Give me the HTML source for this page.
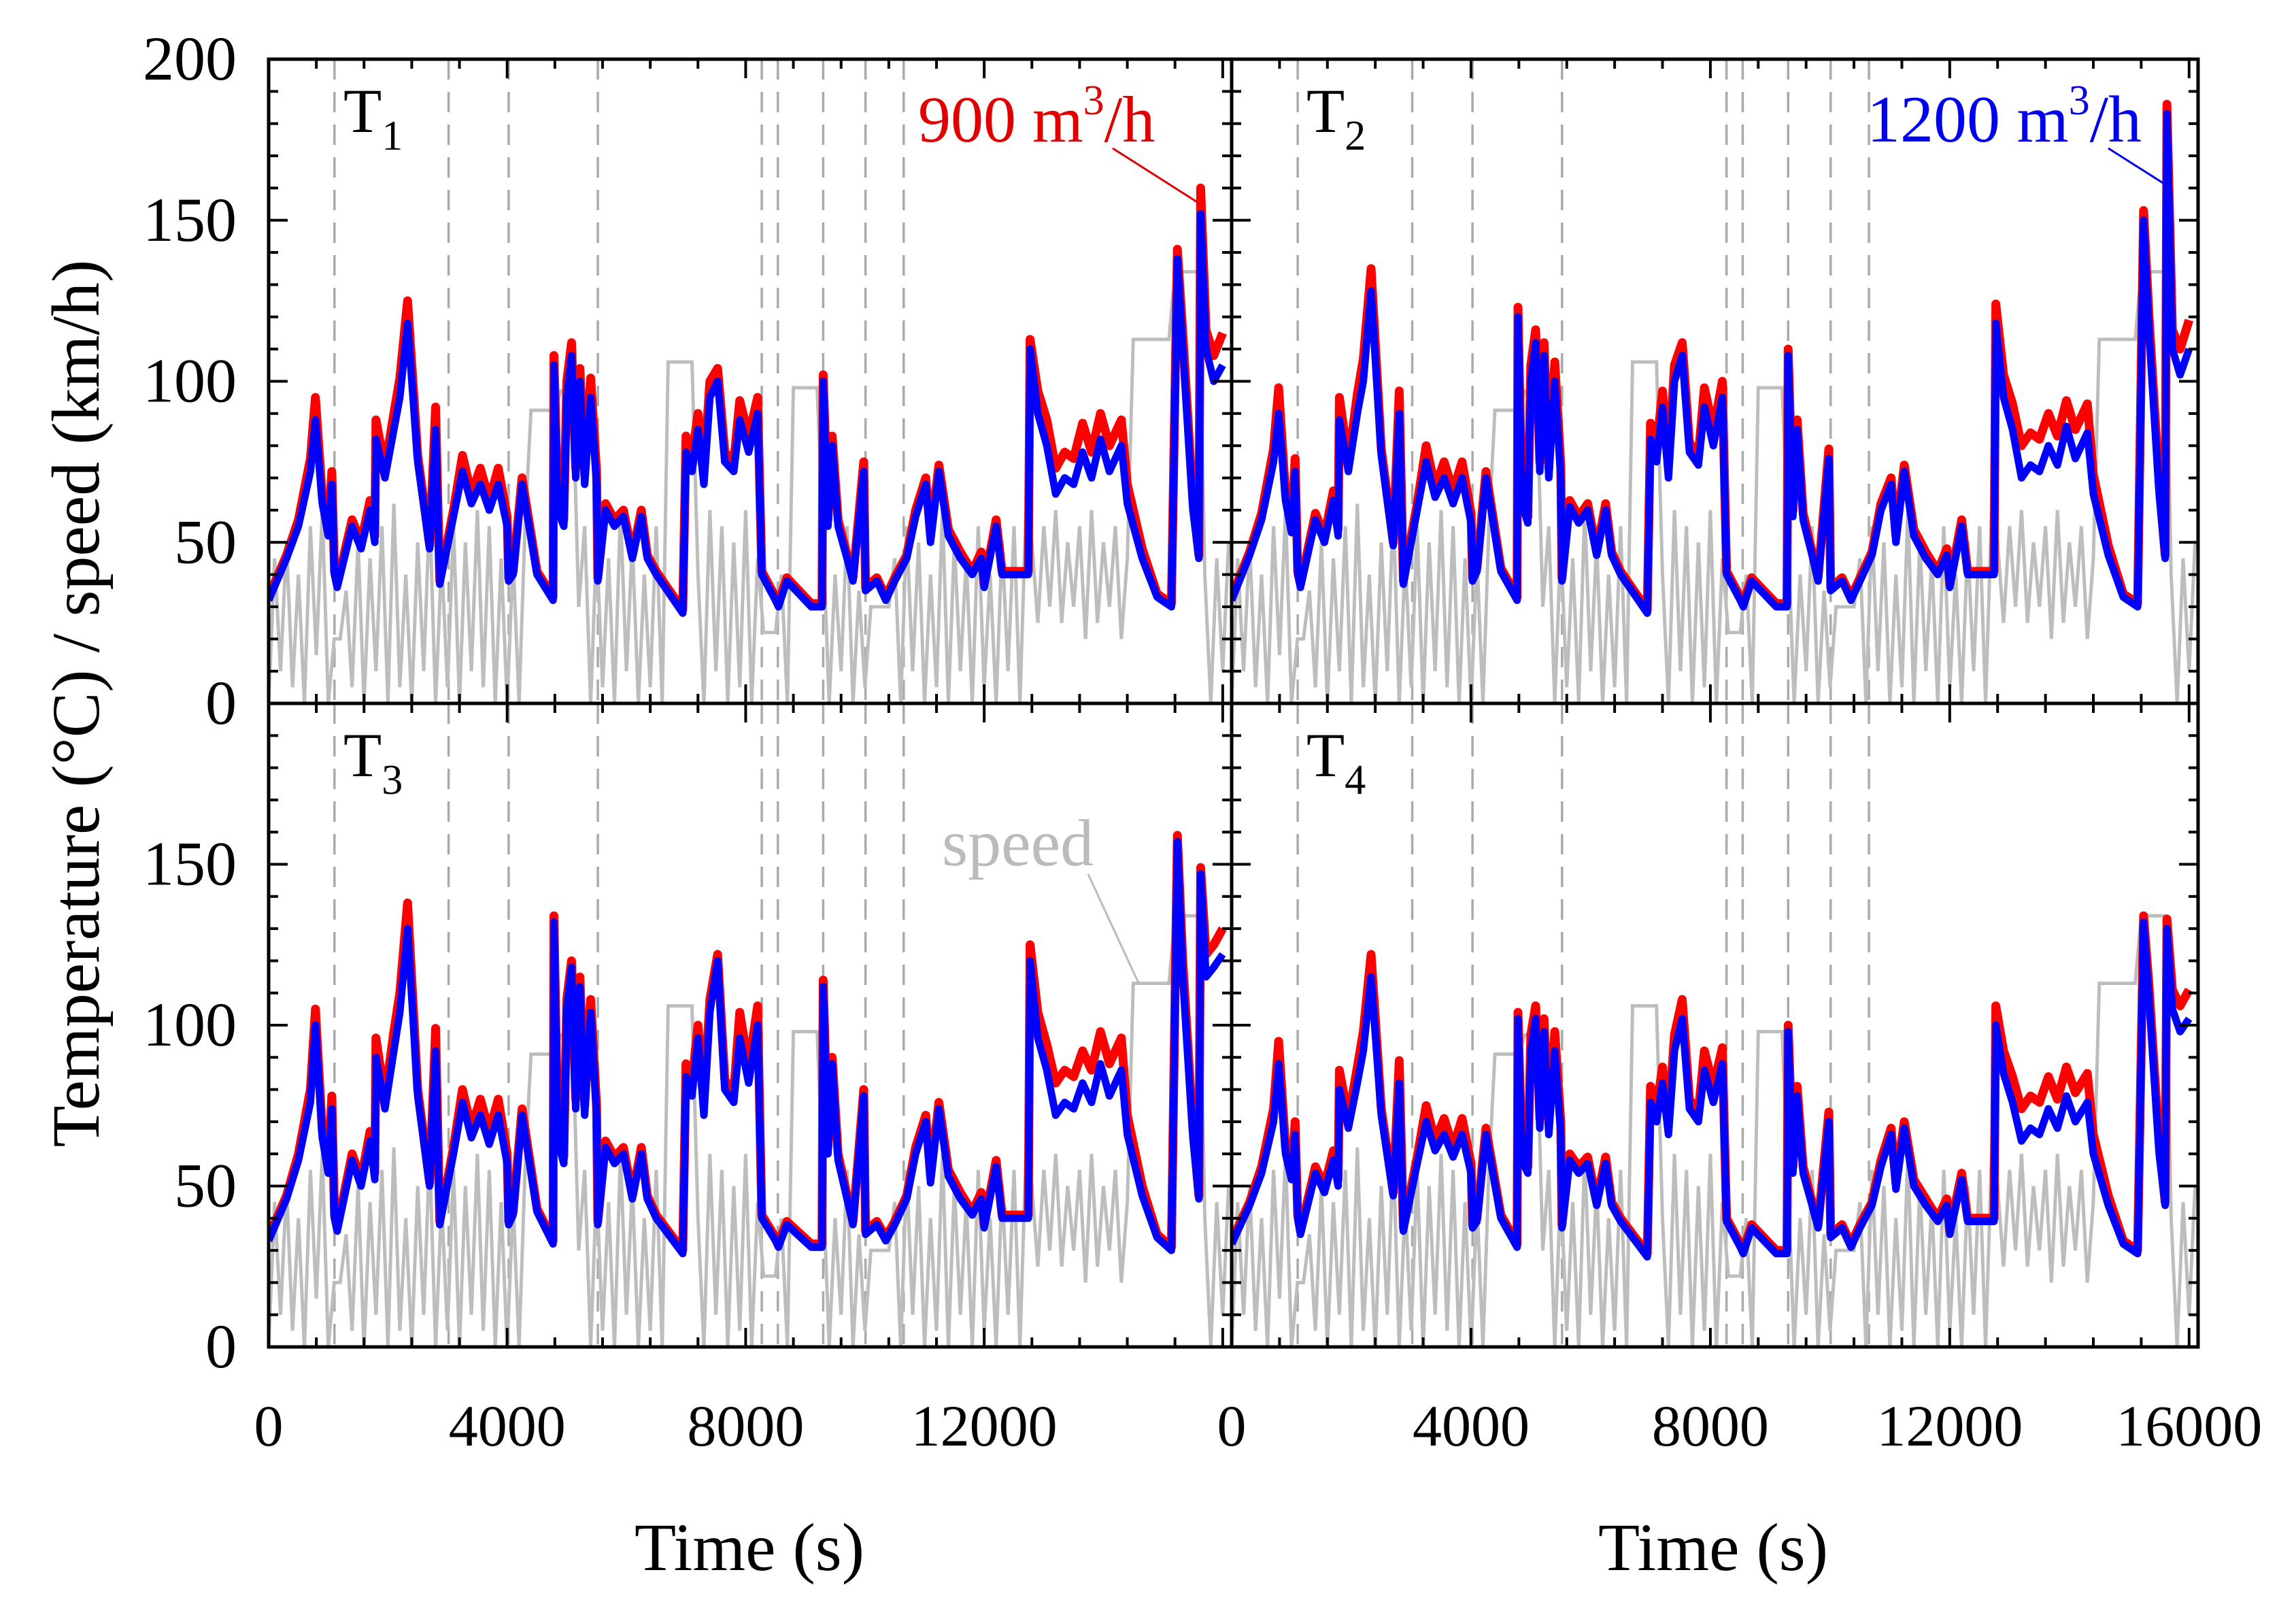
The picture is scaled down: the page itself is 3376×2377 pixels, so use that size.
<!DOCTYPE html>
<html><head><meta charset="utf-8"><style>
html,body{margin:0;padding:0;background:#fff;}
svg{display:block;font-family:"Liberation Serif",serif;}
</style></head><body>
<svg id="chart" width="3376" height="2377" viewBox="0 0 3376 2377" xmlns="http://www.w3.org/2000/svg">
<rect width="3376" height="2377" fill="#fff"/>
<g id="grid"></g><g id="speedg"></g><g id="redg"></g><g id="blueg"></g><g id="axes"></g>
<text transform="translate(145,1034) rotate(-90)" text-anchor="middle" font-size="100">Temperature (°C) / speed (km/h)</text>
<text x="1102" y="2308" text-anchor="middle" font-size="100">Time (s)</text>
<text x="2519" y="2308" text-anchor="middle" font-size="100">Time (s)</text>
<text x="1350" y="208" font-size="96" fill="#e00000">900 m<tspan font-size="62" dy="-40">3</tspan><tspan dy="40">/h</tspan></text>
<line x1="1636" y1="218" x2="1765" y2="300" stroke="#e00000" stroke-width="3"/>
<text x="2745" y="208" font-size="98" fill="#0000ee">1200 m<tspan font-size="62" dy="-40">3</tspan><tspan dy="40">/h</tspan></text>
<line x1="3100" y1="218" x2="3182" y2="270" stroke="#0000ee" stroke-width="3"/>
<text x="1385" y="1272" font-size="98" fill="#bbbbbb">speed</text>
<line x1="1600" y1="1285" x2="1675" y2="1447" stroke="#bbbbbb" stroke-width="3"/>
</svg>
<script>
const times=[0,300,500,700,785,900,1000,1060,1104,1150,1400,1550,1700,1780,1800,1950,2100,2200,2330,2500,2700,2800,2870,3100,3250,3400,3550,3700,3850,4000,4025,4100,4250,4500,4770,4785,4850,4950,5000,5080,5150,5220,5300,5400,5500,5520,5650,5800,5950,6100,6250,6350,6500,6945,7000,7100,7200,7300,7400,7530,7650,7800,7900,8050,8200,8270,8500,8550,8690,9100,9280,9300,9380,9450,9550,9700,9800,9980,10010,10200,10350,10500,10700,10850,11020,11100,11240,11400,11600,11800,11950,12000,12200,12300,12740,12770,12900,13050,13200,13350,13500,13650,13800,13950,14100,14300,14400,14650,14900,15140,15240,15330,15500,15600,15630,15720,15850,16000];
const blueT1=[32,45,55,72,88,62,52,68,40,36,55,48,60,50,82,70,85,95,118,75,48,85,37,58,72,62,68,60,68,55,38,40,68,40,32,105,60,55,95,108,70,100,68,95,68,38,60,55,58,45,58,45,40,28,78,72,85,68,95,100,75,72,88,78,90,40,32,30,38,30,30,100,55,80,55,45,38,72,35,38,32,38,45,58,68,50,72,52,45,40,45,36,55,40,40,110,90,80,65,70,68,78,70,82,72,80,62,45,33,30,138,110,60,45,152,110,100,105];
const redT1=[33,46,57,76,95,64,53,72,41,37,57,50,63,52,88,73,90,101,125,77,49,92,38,60,77,65,73,63,73,58,39,41,70,41,33,108,62,57,100,112,73,104,71,101,72,39,62,57,60,46,60,46,41,29,83,76,90,72,100,104,78,75,94,83,95,41,33,31,39,31,31,102,57,83,57,46,39,75,36,39,33,39,46,60,70,52,74,54,47,41,47,37,57,41,41,113,97,88,73,78,76,87,78,90,80,88,68,48,34,31,141,115,63,46,160,116,108,115];
const blueT2=[32,46,57,75,90,63,53,72,40,36,57,50,63,52,88,72,90,100,128,77,49,90,37,60,75,64,70,62,70,56,38,41,70,41,32,120,62,56,100,112,72,108,70,100,70,38,61,56,60,46,60,46,40,28,82,75,92,70,100,108,78,74,92,80,95,40,32,30,38,30,30,108,58,85,57,46,38,76,35,38,32,38,46,60,68,50,72,52,45,40,46,36,55,40,40,118,95,85,70,74,72,80,74,86,76,84,65,46,33,30,150,115,65,45,183,110,102,110];
const redT2=[33,47,59,79,98,65,54,76,41,37,59,52,66,54,95,75,96,107,135,79,50,97,38,62,80,67,75,66,75,59,39,42,72,42,33,123,64,58,105,116,75,112,73,106,74,39,63,58,62,47,62,47,41,29,87,79,97,74,105,112,81,77,98,85,100,41,33,31,39,31,31,110,60,88,59,47,39,79,36,39,33,39,47,62,70,52,74,54,47,41,48,37,57,41,41,124,102,93,80,84,82,90,83,94,85,93,71,49,34,31,153,120,68,46,186,116,110,119];
const blueT3=[33,46,58,76,100,65,54,74,40,36,58,50,64,52,90,74,92,104,130,78,50,92,38,60,76,65,72,63,72,57,38,41,72,42,32,132,64,57,105,118,74,112,72,104,72,38,62,57,60,46,60,46,40,29,84,78,96,72,104,120,80,76,96,82,100,40,33,31,38,31,31,112,60,88,58,46,38,78,35,38,33,38,46,60,70,51,74,53,46,41,46,37,56,40,40,120,96,86,72,76,74,82,76,88,78,86,66,47,34,30,157,115,65,46,147,115,118,122];
const redT3=[34,47,60,80,105,67,55,78,41,37,60,52,67,54,96,77,98,110,138,80,51,99,39,62,80,68,77,67,77,60,39,42,74,43,33,134,66,59,108,120,77,115,75,108,75,39,64,59,62,47,62,47,41,30,88,82,100,76,108,122,83,79,104,87,106,41,34,32,39,32,32,114,62,90,60,47,39,80,36,39,34,39,47,62,72,53,76,55,48,42,48,38,58,41,41,125,104,94,82,86,84,92,86,98,88,96,72,50,35,31,159,120,68,47,149,122,125,130];
const blueT4=[32,44,54,70,88,60,52,66,40,35,54,48,58,50,80,68,82,92,115,72,47,82,36,57,70,61,66,59,66,54,37,39,66,40,31,102,58,54,92,102,68,98,66,92,66,37,58,54,57,44,57,44,39,28,76,70,82,66,92,102,74,70,86,76,88,39,31,29,37,29,29,98,54,78,54,44,37,70,34,37,31,37,44,56,66,49,68,50,44,39,44,35,52,39,39,100,85,76,64,68,66,74,68,78,70,76,60,44,32,29,132,108,60,44,130,105,98,102];
const redT4=[33,45,56,74,95,62,53,70,41,36,56,50,61,52,86,71,87,98,122,74,48,89,37,59,75,64,71,62,71,57,38,40,68,41,32,104,60,56,97,106,71,102,69,98,70,38,60,56,59,45,59,45,40,29,81,74,87,70,97,108,77,73,92,81,93,40,32,30,38,30,30,100,56,81,56,45,38,73,35,38,32,38,45,58,68,51,70,52,46,40,46,36,54,40,40,106,92,84,74,78,76,84,77,87,79,85,66,47,33,30,134,112,63,45,133,111,106,111];
const speedStep=100;
const speed=[0,45,10,50,5,40,0,55,15,60,0,20,20,35,5,50,0,45,10,55,0,62,5,40,0,50,10,60,0,45,5,55,0,50,10,60,5,55,0,45,0,45,0,55,91,91,91,91,91,97,97,97,30,55,0,50,5,45,0,60,10,50,0,40,5,55,0,106,106,106,106,106,40,0,60,10,55,0,50,5,60,0,45,22,22,22,40,0,98,98,98,98,98,50,0,40,10,55,0,35,5,30,30,30,30,45,0,55,10,50,0,40,5,60,0,50,10,45,0,55,5,40,0,50,10,55,0,60,50,25,55,30,60,25,50,30,55,20,60,25,50,30,55,20,45,113,113,113,113,113,113,113,134,134,134,134,134,40,0,45,10,50];
const dashTimes=[1104,3018,4025,5521,8270,8540,9300,10010,10650];
const yTickLabelsTop=[0,50,100,150,200];
const yTickLabelsBottom=[0,50,100,150];
const xTickLabels=[0,4000,8000,12000];
const xTickLabelsRight=[0,4000,8000,12000,16000];
const panelNames=['1','2','3','4'];

const NS='http://www.w3.org/2000/svg';
const TMAX=16150;
const panels=[
 {x0:395,x1:1811,y0:87,y1:1034,blue:blueT1,red:redT1},
 {x0:1811,x1:3232,y0:87,y1:1034,blue:blueT2,red:redT2},
 {x0:395,x1:1811,y0:1034,y1:1980,blue:blueT3,red:redT3},
 {x0:1811,x1:3232,y0:1034,y1:1980,blue:blueT4,red:redT4}
];
function mk(tag,attrs,parent){const e=document.createElementNS(NS,tag);for(const k in attrs)e.setAttribute(k,attrs[k]);parent.appendChild(e);return e;}
const G=id=>document.getElementById(id);
panels.forEach((p,pi)=>{
 const sx=t=>p.x0+t/TMAX*(p.x1-p.x0);
 const sy=v=>p.y1-v/200*(p.y1-p.y0);
 const cid='clip'+pi;
 const cp=mk('clipPath',{id:cid},G('grid'));
 mk('rect',{x:p.x0,y:p.y0,width:p.x1-p.x0,height:p.y1-p.y0},cp);
 dashTimes.forEach(t=>{
  const l=mk('line',{x1:sx(t),x2:sx(t),y1:p.y0,y2:p.y1,stroke:'#aaaaaa','stroke-width':3.5,'stroke-dasharray':'30 18'},G('grid'));
  
  
 });
 const sp=speed.map((v,i)=>sx(i*speedStep).toFixed(1)+','+sy(v).toFixed(1)).join(' ');
 const spl=mk('polyline',{points:sp,fill:'none',stroke:'#bdbdbd','stroke-width':5,'clip-path':'url(#'+cid+')'},G('speedg'));
 
 
 const rp=p.red.map((v,i)=>sx(times[i]).toFixed(1)+','+sy(v).toFixed(1)).join(' ');
 const rl=mk('polyline',{points:rp,fill:'none',stroke:'#ff0000','stroke-width':13,'stroke-linejoin':'round','clip-path':'url(#'+cid+')'},G('redg'));
 
 
 const bp=p.blue.map((v,i)=>sx(times[i]).toFixed(1)+','+sy(v).toFixed(1)).join(' ');
 const bl=mk('polyline',{points:bp,fill:'none',stroke:'#0000ff','stroke-width':11,'stroke-linejoin':'round','clip-path':'url(#'+cid+')'},G('blueg'));
 
 
 const ax=G('axes');
 for(let v=0;v<=200;v+=10){
  const len=v%50===0?28:14;
  mk('line',{x1:p.x0,x2:p.x0+len,y1:sy(v),y2:sy(v),stroke:'#000','stroke-width':4},ax);
  mk('line',{x1:p.x1,x2:p.x1-len,y1:sy(v),y2:sy(v),stroke:'#000','stroke-width':4},ax);
 }
 for(let t=0;t<=TMAX;t+=800){
  const len=t%4000===0?28:14;
  mk('line',{x1:sx(t),x2:sx(t),y1:p.y1,y2:p.y1-len,stroke:'#000','stroke-width':4},ax);
  mk('line',{x1:sx(t),x2:sx(t),y1:p.y0,y2:p.y0+len,stroke:'#000','stroke-width':4},ax);
 }
 const fr=mk('rect',{x:p.x0,y:p.y0,width:p.x1-p.x0,height:p.y1-p.y0,fill:'none',stroke:'#000','stroke-width':5},ax);
 
 
 const lab=mk('text',{x:p.x0+110,y:p.y0+107,'font-size':92},ax);
 
 
 lab.textContent='T';
 const sub=mk('tspan',{'font-size':62,dy:26},lab);
 sub.textContent=panelNames[pi];
 if(pi%2===0){
  const labs=pi===0?yTickLabelsTop:yTickLabelsBottom;
  labs.forEach(v=>{
   const t=mk('text',{x:348,y:sy(v)+30,'text-anchor':'end','font-size':92},ax);
   
   
   t.textContent=v;
  });
 }
 if(pi>=2){
  const labs=pi===2?xTickLabels:xTickLabelsRight;
  labs.forEach(v=>{
   const t=mk('text',{x:sx(v),y:2125,'text-anchor':'middle','font-size':86},ax);
   
   
   t.textContent=v;
  });
 }
});
</script>
</body></html>
